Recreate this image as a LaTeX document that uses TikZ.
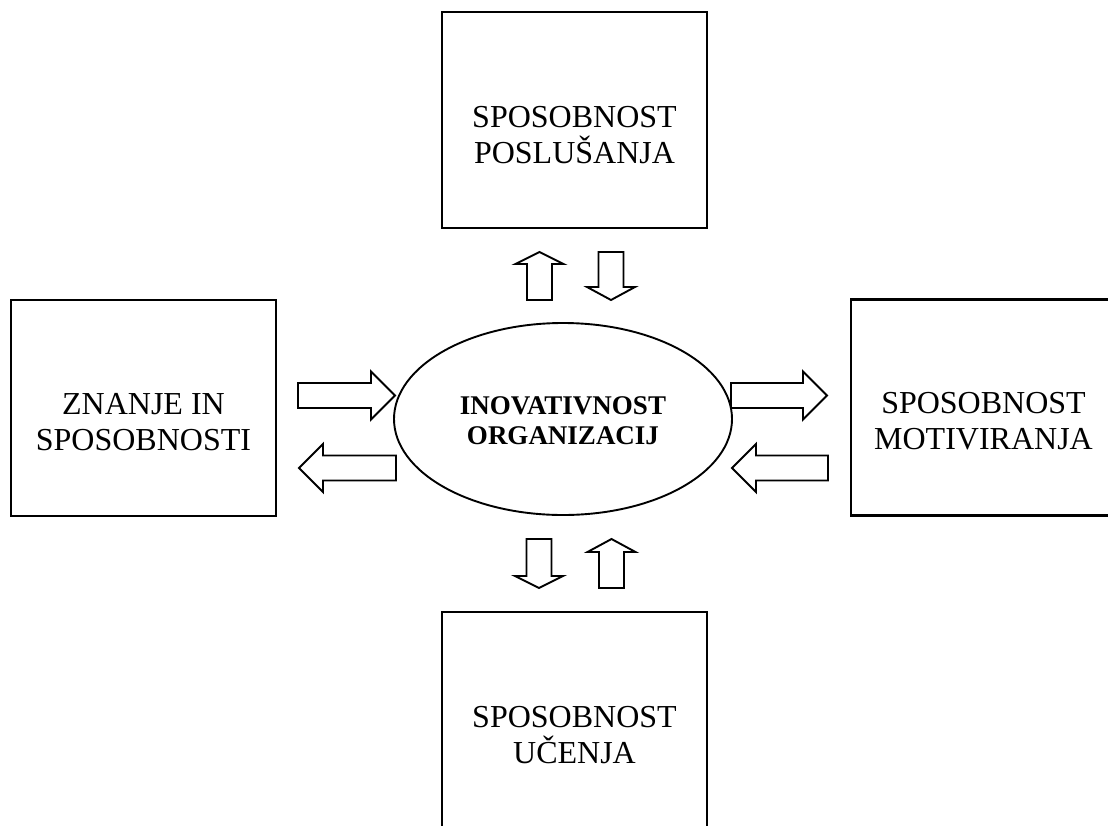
\documentclass[tikz,border=0pt]{standalone}
\usepackage{fontspec}
\setmainfont{Liberation Serif}
\usetikzlibrary{shapes.geometric}

% block arrow: #1 tail midpoint, #2 direction angle, #3 length, #4 head length
\newcommand\blockarrow[4]{%
  \draw[barrow, shift={#1}, rotate=#2]
    (0,-12.5) -- ({#3-#4},-12.5) -- ({#3-#4},-24) -- (#3,0)
    -- ({#3-#4},24) -- ({#3-#4},12.5) -- (0,12.5) -- cycle;}

\tikzset{
  box/.style={draw=black, line width=2.4pt, rectangle, minimum width=265pt,
              minimum height=216pt, inner sep=0pt},
  boxtext/.style={align=center, font=\fontsize{32}{36}\selectfont, inner sep=0pt},
  core/.style={draw=black, line width=1.9pt, ellipse, minimum width=338pt,
               minimum height=192pt, inner sep=0pt},
  coretext/.style={align=center, font=\fontsize{27}{30}\selectfont\bfseries, inner sep=0pt},
  barrow/.style={draw=black, fill=white, line width=1.9pt, line join=miter}
}

\begin{document}
\begin{tikzpicture}[x=1pt, y=-1pt]
  \clip (0,0) rectangle (1108,825);
  \fill[white] (0,0) rectangle (1108,825);

  % outer boxes
  \node[box] (top)    at (574.5,120) {};
  \node[box] (left)   at (143.5,408) {};
  \node[box] (right)  at (983.5,407.5) {};
  \node[box] (bottom) at (574.5,720) {};

  \node[boxtext] (toptxt)    at ([yshift=-15pt]top.center)    {SPOSOBNOST\\POSLUŠANJA};
  \node[boxtext] (lefttxt)   at ([yshift=-14pt]left.center)   {ZNANJE IN\\SPOSOBNOSTI};
  \node[boxtext] (righttxt)  at ([yshift=-14pt]right.center)  {SPOSOBNOST\\MOTIVIRANJA};
  \node[boxtext] (bottomtxt) at ([yshift=-15pt]bottom.center) {SPOSOBNOST\\UČENJA};

  % central ellipse
  \node[core] (centre) at (563,419) {};
  \node[coretext] (centretxt) at (563,421) {INOVATIVNOST\\ORGANIZACIJ};

  % arrows between the centre and the top box
  \blockarrow{(539.5,300)}{90}{48}{12}
  \blockarrow{(611,252)}{-90}{48}{13}

  % arrows between the centre and the left box
  \blockarrow{(298,395.5)}{0}{97}{24}
  \blockarrow{(396,468)}{180}{97}{24}

  % arrows between the centre and the right box
  \blockarrow{(731,395.5)}{0}{96}{24}
  \blockarrow{(828,468)}{180}{96}{24}

  % arrows between the centre and the bottom box
  \blockarrow{(539,539)}{-90}{49}{12}
  \blockarrow{(611.5,588)}{90}{49}{13}
\end{tikzpicture}
\end{document}
